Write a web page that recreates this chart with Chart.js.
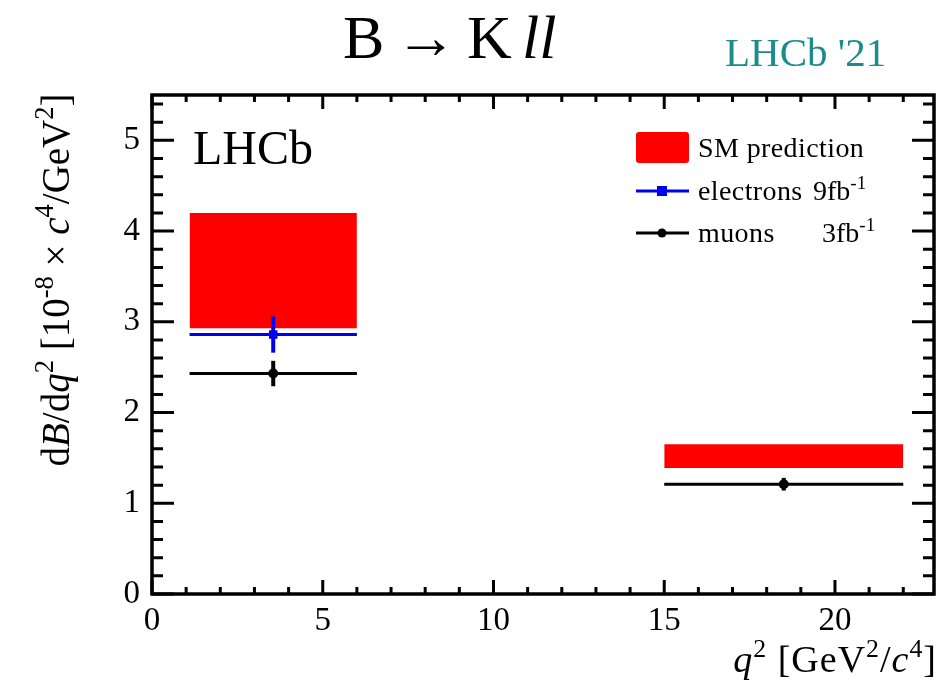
<!DOCTYPE html>
<html>
<head>
<meta charset="utf-8">
<script src="https://cdn.jsdelivr.net/npm/chart.js@4"></script>
<style>
  body { margin: 0; background: #fff; }
  canvas { display: block; }
</style>
</head>
<body>
<canvas id="bkll" width="951" height="685"></canvas>
<script>
// q2 bins [GeV^2/c^4]
const binLo = [1.1, 15.0];
const binHi = [6.0, 22.0];

// SM prediction band per bin
const smLow = [2.93, 1.39];
const smHigh = [4.20, 1.65];

// electrons, 9 fb-1 (first bin only)
const eleLo = [1.1];
const eleHi = [6.0];
const eleVal = [2.86];
const eleErr = [0.20];

// muons, 3 fb-1
const muVal = [2.43, 1.21];
const muErr = [0.14, 0.07];

// axis ticks
const xTickStep = 5;
const yTickStep = 1;

const legendLabels = ['SM prediction', 'electrons', 'muons'];
const legendLumi = ['', '9fb', '3fb'];

const serif = 'Liberation Serif';
const red = '#ff0000';
const blue = '#0000f0';

let datasets = [];

// SM bands: upper edge filled down to lower edge (drawn underneath everything)
for (let i = 0; i < binLo.length; i++) {
  datasets.push({
    data: [{x: binLo[i], y: smHigh[i]}, {x: binHi[i], y: smHigh[i]}],
    borderWidth: 0, pointRadius: 0, fill: '+1', backgroundColor: red, order: 10
  });
  datasets.push({
    data: [{x: binLo[i], y: smLow[i]}, {x: binHi[i], y: smLow[i]}],
    borderWidth: 0, pointRadius: 0, fill: false, order: 10
  });
}

// electrons
for (let i = 0; i < eleVal.length; i++) {
  let c = (eleLo[i] + eleHi[i]) / 2;
  datasets.push({
    data: [{x: eleLo[i], y: eleVal[i]}, {x: eleHi[i], y: eleVal[i]}],
    borderColor: blue, borderWidth: 3, pointRadius: 0, fill: false, order: 1
  });
  datasets.push({
    data: [{x: c, y: eleVal[i] - eleErr[i]}, {x: c, y: eleVal[i] + eleErr[i]}],
    borderColor: blue, borderWidth: 4, pointRadius: 0, fill: false, order: 1
  });
  datasets.push({
    data: [{x: c, y: eleVal[i]}],
    showLine: false, pointStyle: 'rect', pointRadius: 6,
    backgroundColor: blue, borderColor: blue, borderWidth: 0, order: 0
  });
}

// muons
for (let i = 0; i < muVal.length; i++) {
  let c = (binLo[i] + binHi[i]) / 2;
  datasets.push({
    data: [{x: binLo[i], y: muVal[i]}, {x: binHi[i], y: muVal[i]}],
    borderColor: '#000', borderWidth: 3, pointRadius: 0, fill: false, order: 1
  });
  datasets.push({
    data: [{x: c, y: muVal[i] - muErr[i]}, {x: c, y: muVal[i] + muErr[i]}],
    borderColor: '#000', borderWidth: 4, pointRadius: 0, fill: false, order: 1
  });
  datasets.push({
    data: [{x: c, y: muVal[i]}],
    showLine: false, pointStyle: 'circle', pointRadius: 5,
    backgroundColor: '#000', borderColor: '#000', borderWidth: 0, order: 0
  });
}

// draw a run of text pieces: {t, it (italic), sup (superscript)}
function richText(ctx, parts, x, y, size, align, spacing) {
  ctx.letterSpacing = (spacing || 0) + 'px';
  let fontOf = p => (p.it ? 'italic ' : '') + (p.sup ? size * 0.68 : size) + 'px "' + serif + '"';
  let widths = parts.map(p => {
    ctx.font = fontOf(p);
    return ctx.measureText(p.t).width;
  });
  let total = widths.reduce((a, b) => a + b, 0);
  let cx = x;
  if (align === 'right') cx = x - total;
  if (align === 'center') cx = x - total / 2;
  ctx.textBaseline = 'alphabetic';
  ctx.textAlign = 'left';
  parts.forEach((p, k) => {
    ctx.font = fontOf(p);
    ctx.fillText(p.t, cx, p.sup ? y - size * 0.4 : y);
    cx += widths[k];
  });
  ctx.letterSpacing = '0px';
}

const frameTicks = {
  id: 'frameTicks',
  afterDatasetsDraw(chart) {
    let ctx = chart.ctx;
    let a = chart.chartArea;
    let xs = chart.scales.x;
    let ys = chart.scales.y;
    ctx.save();
    ctx.strokeStyle = '#000';
    ctx.lineWidth = 3;
    ctx.beginPath();
    // x ticks, bottom and top, minor every 1
    for (let v = Math.ceil(xs.min); v <= xs.max; v += 1) {
      let px = xs.getPixelForValue(v);
      let len = v % xTickStep === 0 ? 14 : 7;
      ctx.moveTo(px, a.bottom); ctx.lineTo(px, a.bottom - len);
      ctx.moveTo(px, a.top); ctx.lineTo(px, a.top + len);
    }
    // y ticks, left and right, minor every 0.2
    for (let k = 0; k * 0.2 <= ys.max + 1e-9; k++) {
      let v = k * 0.2;
      let py = ys.getPixelForValue(v);
      let len = k % 5 === 0 ? 22 : 11;
      ctx.moveTo(a.left, py); ctx.lineTo(a.left + len, py);
      ctx.moveTo(a.right, py); ctx.lineTo(a.right - len, py);
    }
    ctx.stroke();
    ctx.lineWidth = 3.5;
    ctx.strokeRect(a.left, a.top, a.right - a.left, a.bottom - a.top);

    ctx.fillStyle = '#000';
    // experiment label
    ctx.font = '48px "' + serif + '"';
    ctx.textAlign = 'left';
    ctx.textBaseline = 'alphabetic';
    ctx.fillText('LHCb', 193, 164);

    // legend
    ctx.fillStyle = red;
    ctx.beginPath();
    ctx.roundRect(636, 132, 53, 31, 3);
    ctx.fill();
    ctx.lineWidth = 3;
    ctx.strokeStyle = blue;
    ctx.beginPath(); ctx.moveTo(636, 191); ctx.lineTo(689, 191); ctx.stroke();
    ctx.fillStyle = blue;
    ctx.fillRect(657, 186, 10, 10);
    ctx.strokeStyle = '#000';
    ctx.beginPath(); ctx.moveTo(636, 233); ctx.lineTo(689, 233); ctx.stroke();
    ctx.fillStyle = '#000';
    ctx.beginPath(); ctx.arc(662, 233, 4.5, 0, Math.PI * 2); ctx.fill();

    let rows = [157, 200, 242];
    let lumiX = [0, 813, 822];
    legendLabels.forEach((lab, i) => {
      richText(ctx, [{t: lab}], 698, rows[i], 28, 'left', 0.4);
      if (legendLumi[i]) richText(ctx, [{t: legendLumi[i]}, {t: '-1', sup: true}], lumiX[i], rows[i], 28, 'left');
    });

    // axis titles
    richText(ctx, [{t: 'q', it: true}, {t: '2', sup: true}, {t: ' [GeV'}, {t: '2', sup: true},
      {t: '/'}, {t: 'c', it: true}, {t: '4', sup: true}, {t: ']'}], 937, 672, 38, 'right', 1);

    ctx.save();
    ctx.translate(69, 280);
    ctx.rotate(-Math.PI / 2);
    richText(ctx, [{t: 'd'}, {t: 'B', it: true}, {t: '/d'}, {t: 'q', it: true}, {t: '2', sup: true},
      {t: ' [10'}, {t: '-8', sup: true}, {t: ' \u00d7 '}, {t: 'c', it: true}, {t: '4', sup: true},
      {t: '/GeV'}, {t: '2', sup: true}, {t: ']'}], 0, 0, 39, 'center');
    ctx.restore();

    // titles above the frame
    richText(ctx, [{t: 'B\u2006\u2192\u2006K\u2006'}, {t: 'll', it: true}], 343, 58, 62, 'left');
    ctx.fillStyle = '#1a8c8c';
    richText(ctx, [{t: "LHCb '21"}], 725, 66, 41, 'left');
    ctx.restore();
  }
};

new Chart(document.getElementById('bkll'), {
  type: 'line',
  data: { datasets: datasets },
  options: {
    responsive: false,
    animation: false,
    layout: { padding: { top: 95, right: 17, bottom: 0, left: 0 } },
    plugins: { legend: { display: false }, tooltip: { enabled: false } },
    scales: {
      x: {
        type: 'linear', min: 0, max: 22.9,
        grid: { display: false, drawTicks: false },
        border: { display: false },
        ticks: { stepSize: xTickStep, includeBounds: false, autoSkip: false, padding: 8,
          color: '#000', font: { family: serif, size: 33 } },
        afterFit(scale) { scale.height = 91; }
      },
      y: {
        type: 'linear', min: 0, max: 5.5,
        grid: { display: false, drawTicks: false },
        border: { display: false },
        ticks: { stepSize: yTickStep, includeBounds: false, autoSkip: false, padding: 12,
          color: '#000', font: { family: serif, size: 33 } },
        afterFit(scale) { scale.width = 152; }
      }
    }
  },
  plugins: [frameTicks]
});
</script>
</body>
</html>
